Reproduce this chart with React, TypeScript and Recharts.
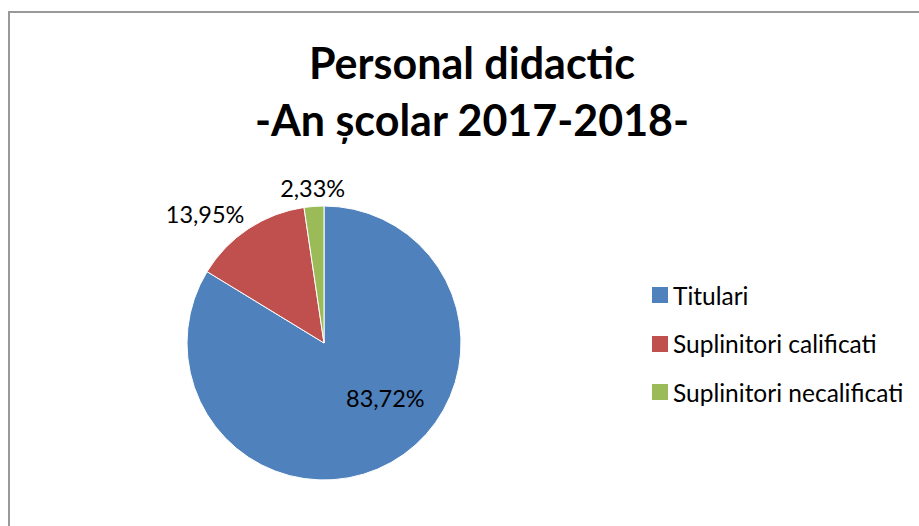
import React from 'react';
import { PieChart, Pie, Cell } from 'recharts';

const categories = ['Titulari', 'Suplinitori calificati', 'Suplinitori necalificati'];
const values = [83.72, 13.95, 2.33];
const colors = ['#4F81BD', '#C0504D', '#9BBB59'];
const titleLines = ['Personal didactic', '-An școlar 2017-2018-'];

const data = categories.map((name, i) => ({ name, value: values[i] }));

const FONT = 'Lato, "Open Sans", sans-serif';
const RAD = Math.PI / 180;

const formatPct = (v: number) => v.toFixed(2).replace('.', ',') + '%';

// rough imitation of Excel "best fit" label placement
const renderLabel = (props: any) => {
  const { cx, cy, midAngle, outerRadius, value, percent } = props;
  if (percent > 0.5) {
    const a = (midAngle + 19) * RAD;
    const r = outerRadius * 0.6;
    return (
      <text x={cx + r * Math.cos(a)} y={cy - r * Math.sin(a)} fill="#000" fontSize={23.5}
        fontFamily={FONT} textAnchor="middle" dominantBaseline="central">
        {formatPct(value)}
      </text>
    );
  }
  const r = outerRadius + 18;
  const cos = Math.cos(midAngle * RAD);
  const x = cx + r * cos;
  const y = cy - r * Math.sin(midAngle * RAD);
  const anchor = cos < -0.3 ? 'end' : cos > 0.3 ? 'start' : 'middle';
  return (
    <text x={anchor === 'end' ? x + 6 : x} y={y} fill="#000" fontSize={23.5} fontFamily={FONT}
      textAnchor={anchor} dominantBaseline="central">
      {formatPct(value)}
    </text>
  );
};

export default function App() {
  return (
    <div style={{ position: 'absolute', left: 0, top: 0, width: 919, height: 526, background: '#fff', overflow: 'hidden' }}>
      <div style={{ position: 'absolute', left: 8, top: 11, width: 1000, height: 600, borderLeft: '2px solid #999', borderTop: '2px solid #999' }} />
      <div style={{ position: 'absolute', left: 0, top: 34, width: 944, textAlign: 'center', fontFamily: FONT, fontWeight: 'bold', fontSize: 43, lineHeight: '57px', color: '#000' }}>
        {titleLines.map((t) => <div key={t}>{t}</div>)}
      </div>
      <PieChart width={919} height={526} margin={{ top: 0, right: 0, bottom: 0, left: 0 }}
        style={{ position: 'absolute', left: 0, top: 0 }}>
        <Pie
          data={data}
          dataKey="value"
          nameKey="name"
          cx={324}
          cy={343}
          outerRadius={137}
          startAngle={90}
          endAngle={-270}
          stroke="#fff"
          strokeWidth={1}
          label={renderLabel}
          labelLine={false}
          isAnimationActive={false}
        >
          {data.map((d, i) => <Cell key={d.name} fill={colors[i]} />)}
        </Pie>
      </PieChart>
      {/* legend */}
      <div style={{ position: 'absolute', left: 652, top: 271 }}>
        {categories.map((c, i) => (
          <div key={c} style={{ display: 'flex', alignItems: 'center', height: 48.5 }}>
            <span style={{ width: 16, height: 16, background: colors[i], marginRight: 5, display: 'inline-block' }} />
            <span style={{ fontFamily: FONT, fontSize: 24.5, color: '#000', whiteSpace: 'nowrap' }}>{c}</span>
          </div>
        ))}
      </div>
    </div>
  );
}
